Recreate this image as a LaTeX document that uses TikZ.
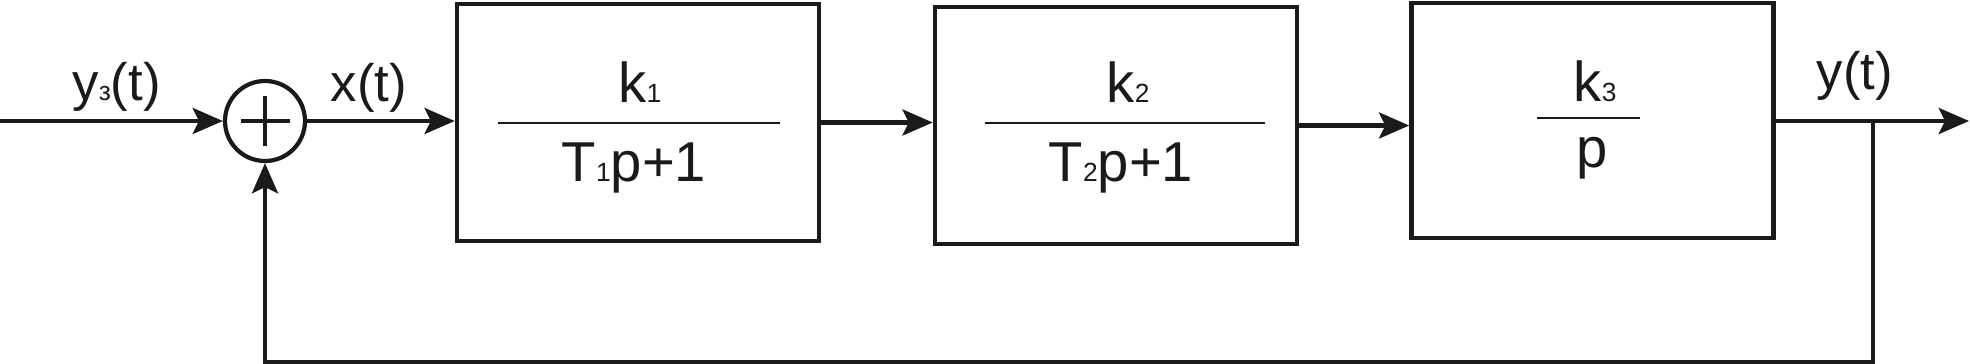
\documentclass[tikz,border=0pt]{standalone}
\usepackage{fontspec}
\setmainfont{Liberation Sans}
\usepackage{xcolor}
\usepackage{tikz}
\usetikzlibrary{arrows.meta, positioning, calc}

\definecolor{ink}{HTML}{1A1A1A}
\newcommand{\smallidx}[1]{{\fontsize{7.5}{9}\selectfont #1}}

\tikzset{
  block/.style={draw=ink, line width=1.3pt, minimum width=3.62cm, minimum height=2.37cm, inner sep=0pt},
  summer/.style={circle, draw=ink, line width=1.2pt, minimum size=0.80cm, inner sep=0pt},
  signal/.style={draw=ink, line width=1.2pt, -{Stealth[length=8.6pt, width=7.4pt, inset=1.8pt]}},
  fracline/.style={draw=ink, line width=0.6pt},
  lbl/.style={text=ink, font=\fontsize{15}{18}\selectfont, inner sep=0pt, anchor=base},
  txt/.style={text=ink, font=\fontsize{16}{19}\selectfont, inner sep=0pt, anchor=base}
}

\begin{document}
\begin{tikzpicture}
  \useasboundingbox (0,0) rectangle (19.70,-3.64);

  % Summing junction
  \coordinate (in) at (0,-1.21);
  \node[summer] (sum) at (2.65,-1.21) {};
  \draw[ink, line width=1.2pt] ($(sum.center)+(-0.245,0)$) -- ($(sum.center)+(0.245,0)$);
  \draw[ink, line width=1.2pt] ($(sum.center)+(0,-0.25)$) -- ($(sum.center)+(0,0.25)$);

  % Blocks
  \node[block] (b1) at (6.38,-1.225) {};
  \node[block] (b2) at (11.16,-1.255) {};
  \node[block, minimum height=2.35cm] (b3) at (15.925,-1.205) {};

  % Transfer functions
  \node[txt] (n1) at (6.40,-1.03) {k\smallidx{1}};
  \draw[fracline] (4.98,-1.23) -- (7.80,-1.23);
  \node[txt] (d1) at (6.34,-1.81) {T\smallidx{1}p+1};

  \node[txt] (n2) at (11.28,-1.03) {k\smallidx{2}};
  \draw[fracline] (9.85,-1.23) -- (12.65,-1.23);
  \node[txt] (d2) at (11.21,-1.81) {T\smallidx{2}p+1};

  \node[txt] (n3) at (15.95,-1.02) {k\smallidx{3}};
  \draw[fracline] (15.37,-1.18) -- (16.40,-1.18);
  \node[txt] (d3) at (15.92,-1.68) {p};

  % Output and feedback points
  \coordinate (out) at (19.69,-1.21);
  \coordinate (branch) at (18.73,-1.21);
  \coordinate (fb) at (2.65,-3.62);

  % Signals
  \draw[signal] (in) -- (sum.west);
  \draw[signal] (sum.east) -- (sum.east -| b1.west);
  \draw[signal] (b1.east) -- (b1.east -| b2.west);
  \draw[signal] (b2.east) -- (b2.east -| b3.west);
  \draw[signal] (b3.east |- out) -- (out);
  \draw[signal] (branch) |- (fb) -- (sum.south);

  % Labels
  \node[lbl] (yz) at (1.165,-1.01) {y\smallidx{з}(t)};
  \node[lbl] (xt) at (3.69,-1.02) {x(t)};
  \node[lbl] (yt) at (18.55,-0.90) {y(t)};
\end{tikzpicture}
\end{document}
